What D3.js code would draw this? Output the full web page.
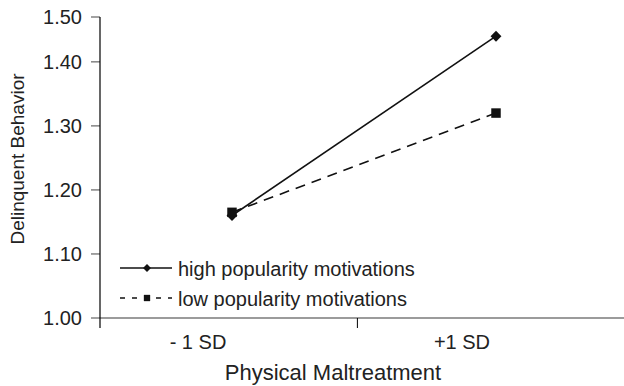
<!DOCTYPE html>
<html>
<head>
<meta charset="utf-8">
<script src="https://cdn.jsdelivr.net/npm/d3@7"></script>
<style>
  body { margin: 0; background: #fff; }
  text { font-family: "Liberation Sans", Arial, sans-serif; fill: #222; }
</style>
</head>
<body>
<div id="chart"></div>
<script>
// data
const categories = ["- 1 SD", "+1 SD"];
const highPopularity = [1.16, 1.44];
const lowPopularity = [1.165, 1.32];
const yTickValues = [1.0, 1.1, 1.2, 1.3, 1.4, 1.47];
const yTickLabels = ["1.00", "1.10", "1.20", "1.30", "1.40", "1.50"];
const seriesNames = ["high popularity motivations", "low popularity motivations"];

const W = 624, H = 386;
const margin = {top: 17, right: 0, bottom: 68, left: 100};
const width = W - margin.left - margin.right;
const height = H - margin.top - margin.bottom;

const svg = d3.select("#chart").append("svg")
    .attr("width", W)
    .attr("height", H);

const g = svg.append("g")
    .attr("transform", `translate(${margin.left},${margin.top})`);

// scales
const x = d3.scaleLinear().domain([-0.5, 1.5]).range([0, 528]);
const y = d3.scaleLinear().domain([1.0, 1.47]).range([height, 0]);

// x axis line (grey) + tick between the two groups
g.append("line")
    .attr("x1", 0).attr("x2", width)
    .attr("y1", y(1.0)).attr("y2", y(1.0))
    .attr("stroke", "#7a7a7a").attr("stroke-width", 1.6);

g.append("line")
    .attr("x1", x(0.475)).attr("x2", x(0.475))
    .attr("y1", y(1.0)).attr("y2", y(1.0) + 10)
    .attr("stroke", "#000").attr("stroke-width", 1);

g.selectAll(".xlabel")
    .data(categories)
    .join("text")
    .attr("class", "xlabel")
    .attr("x", (d, i) => x(i) - 34)
    .attr("y", y(1.0) + 31)
    .attr("text-anchor", "middle")
    .style("font-size", "20px")
    .text(d => d);

// y axis
g.selectAll(".ytick")
    .data(yTickValues)
    .join("line")
    .attr("class", "ytick")
    .attr("x1", -9).attr("x2", 0)
    .attr("y1", d => y(d)).attr("y2", d => y(d))
    .attr("stroke", "#7a7a7a").attr("stroke-width", 1.4);

g.selectAll(".ylabel")
    .data(yTickValues)
    .join("text")
    .attr("class", "ylabel")
    .attr("x", -18)
    .attr("y", d => y(d))
    .attr("dy", "0.36em")
    .attr("text-anchor", "end")
    .style("font-size", "20px")
    .text((d, i) => yTickLabels[i]);

g.append("line")
    .attr("x1", 0).attr("x2", 0)
    .attr("y1", 0).attr("y2", y(1.0) + 10)
    .attr("stroke", "#000").attr("stroke-width", 1.2);

// axis titles
svg.append("text")
    .attr("transform", `translate(24, 159) rotate(-90)`)
    .attr("text-anchor", "middle")
    .style("font-size", "19px")
    .text("Delinquent Behavior");

svg.append("text")
    .attr("x", 333)
    .attr("y", 380)
    .attr("text-anchor", "middle")
    .style("font-size", "22px")
    .text("Physical Maltreatment");

// lines
const line = d3.line()
    .x((d, i) => x(i))
    .y(d => y(d));

g.append("path")
    .datum(highPopularity)
    .attr("d", line)
    .attr("fill", "none")
    .attr("stroke", "#111")
    .attr("stroke-width", 1.6);

g.append("path")
    .datum(lowPopularity)
    .attr("d", line)
    .attr("fill", "none")
    .attr("stroke", "#111")
    .attr("stroke-width", 1.6)
    .attr("stroke-dasharray", "10,7");

const diamond = d3.symbol().type(d3.symbolDiamond2);
const square = d3.symbol().type(d3.symbolSquare);

// markers
g.selectAll(".lowMark")
    .data(lowPopularity)
    .join("path")
    .attr("class", "lowMark")
    .attr("d", square.size(90)())
    .attr("transform", (d, i) => `translate(${x(i)},${y(d)})`)
    .attr("fill", "#111");

g.selectAll(".highMark")
    .data(highPopularity)
    .join("path")
    .attr("class", "highMark")
    .attr("d", diamond.size(75)())
    .attr("transform", (d, i) => `translate(${x(i)},${y(d)})`)
    .attr("fill", "#111");

// legend
const legend = svg.append("g").attr("transform", "translate(120, 268)");
const legendRow = 30;

seriesNames.forEach((name, i) => {
    const row = legend.append("g").attr("transform", `translate(0, ${i * legendRow})`);
    row.append("line")
        .attr("x1", 0).attr("x2", 52)
        .attr("stroke", "#111").attr("stroke-width", 1.4)
        .attr("stroke-dasharray", i === 0 ? null : "5,7");
    row.append("path")
        .attr("d", i === 0 ? diamond.size(40)() : square.size(40)())
        .attr("transform", "translate(27,0)")
        .attr("fill", "#111");
    row.append("text")
        .attr("x", 58)
        .attr("y", 4)
        .attr("dy", "0.2em")
        .style("font-size", "20px")
        .text(name);
});
</script>
</body>
</html>
